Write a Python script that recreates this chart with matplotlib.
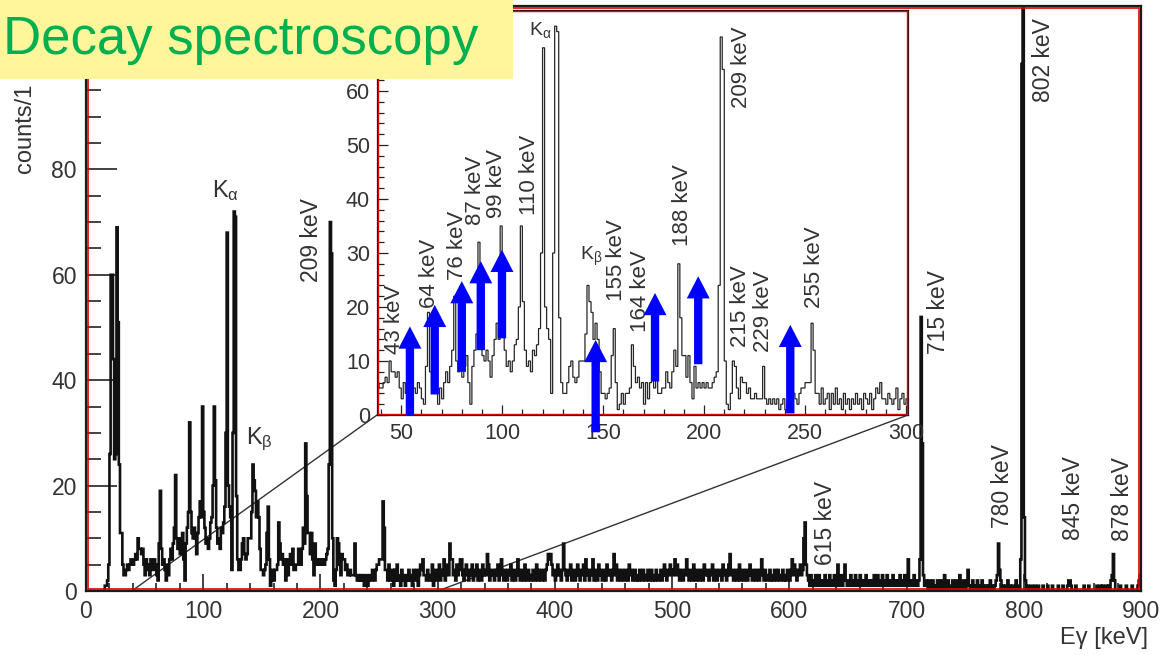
import numpy as np
import matplotlib
matplotlib.use("Agg")
import matplotlib.pyplot as plt
from matplotlib.patches import Rectangle, FancyArrowPatch, ConnectionPatch, ArrowStyle
from matplotlib.ticker import MultipleLocator

plt.rcParams['font.family'] = ['Liberation Sans', 'DejaVu Sans']
plt.rcParams['mathtext.fontset'] = 'custom'
plt.rcParams['mathtext.rm'] = 'Liberation Sans'
plt.rcParams['mathtext.it'] = 'Liberation Sans'
plt.rcParams['mathtext.bf'] = 'Liberation Sans:bold'

# ---------------- data: counts per 1 keV bin ----------------
counts_000 = [0,0,0,0,0,0,0,0,0,0,
              0,0,0,0,0,0,1,1,2,5,
              26,60,60,44,25,26,69,51,24,11,
              11,5,3,3,4,5,4,5,6,5,
              5,6,7,6,10,8,8,7,8,5,
              3,6,4,5,3,6,5,4,6,5,
              3,2,9,19,8,5,6,4,2,5,
              3,6,8,6,9,12,22,10,8,10,
              7,9,11,6,2,9,12,15,32,15,
              11,10,12,10,7,11,14,17,14,35]
counts_100 = [15,12,9,10,8,10,13,14,20,35,
              21,12,9,10,8,12,11,13,16,30,
              68,20,16,14,4,30,72,71,18,6,
              4,4,6,9,10,7,6,7,10,10,
              10,15,24,21,19,14,17,14,8,4,
              4,3,4,5,11,16,6,1,2,4,
              2,4,4,5,13,9,6,7,5,6,
              2,6,3,6,7,5,8,4,4,5,
              5,8,6,5,8,12,9,28,18,11,
              11,7,11,6,3,9,5,6,5,6]
counts_200 = [5,6,5,5,6,7,8,24,70,64,
              10,2,1,4,10,9,5,3,7,6,
              6,4,5,3,3,4,3,3,3,9,
              3,2,3,2,3,2,3,1,2,3,
              1,2,3,2,4,3,2,4,5,5,
              6,6,6,17,12,4,4,2,5,2,
              3,4,1,4,2,5,2,3,1,4,
              2,3,1,3,2,4,2,3,1,4,
              3,2,4,1,3,5,4,6,3,3,
              2,4,3,2,3,5,1,3,4,2]
counts_300 = [3,5,2,4,3,6,2,4,5,3,
              9,6,6,3,4,2,5,3,4,6,
              6,3,2,4,5,3,2,4,3,5,
              2,4,3,5,2,3,4,2,5,3,
              4,3,7,5,2,3,4,3,2,4,
              3,5,2,4,6,3,2,4,3,2,
              4,3,5,2,3,4,2,3,6,4,
              2,3,4,2,5,3,2,4,3,2,
              3,4,2,3,5,2,4,3,2,4,
              3,2,4,5,7,6,7,5,3,4]
counts_400 = [2,3,5,4,3,2,4,9,4,3,
              2,4,3,5,2,3,4,2,3,5,
              3,2,4,3,5,2,6,4,3,2,
              4,3,6,2,4,3,2,5,3,4,
              2,3,4,2,5,3,4,3,2,4,
              7,3,5,2,4,3,2,4,3,2,
              4,3,2,5,3,4,2,3,4,2,
              3,2,4,3,2,4,3,2,3,4,
              2,3,4,2,3,2,4,3,2,3,
              4,2,3,5,3,2,4,3,5,4]
counts_500 = [3,4,6,3,5,4,2,3,4,2,
              3,4,6,3,2,4,3,2,5,3,
              2,4,3,2,4,3,2,5,3,4,
              3,2,4,3,5,2,3,4,2,3,
              4,3,2,5,3,4,2,3,5,7,
              3,4,2,3,4,2,3,5,2,3,
              4,2,3,4,2,3,5,3,2,4,
              3,2,4,3,2,4,6,3,2,4,
              3,2,3,4,2,3,2,4,3,2,
              4,3,2,3,4,2,3,2,4,3]
counts_600 = [2,4,6,3,5,4,2,3,4,5,
              3,4,10,13,5,3,2,1,3,2,
              1,2,3,1,2,3,1,2,1,2,
              3,1,2,1,3,2,1,2,3,1,
              2,5,1,2,3,1,2,5,2,1,
              2,1,3,2,1,2,3,1,2,1,
              3,1,2,1,2,3,1,2,1,2,
              1,2,3,1,2,3,1,2,1,3,
              2,1,2,3,1,2,1,2,3,1,
              2,1,2,1,3,2,1,2,3,1]
counts_700 = [1,6,2,1,2,1,3,1,2,1,
              2,6,52,28,3,1,2,1,0,2,
              1,0,2,1,0,1,2,0,1,2,
              0,1,3,0,1,2,0,1,0,2,
              1,0,2,1,0,3,1,0,2,1,
              0,2,4,1,0,1,2,0,1,0,
              2,0,1,0,2,1,0,1,0,1,
              0,2,0,1,0,1,2,3,9,4,
              2,0,1,0,1,0,2,0,1,0,
              1,0,0,2,0,1,0,6,100,160]
counts_800 = [14,2,0,1,0,0,1,0,0,1,
              0,0,1,0,0,0,1,0,0,0,
              1,0,0,0,1,0,0,0,0,1,
              0,0,0,1,0,0,0,1,2,2,
              1,0,0,0,1,0,0,0,0,0,
              0,1,0,0,0,1,0,0,0,0,
              0,0,1,0,0,1,0,1,0,0,
              1,0,1,0,2,3,7,2,0,0,
              0,0,1,0,0,0,0,1,0,0,
              0,0,1,0,0,0,0,1,2,3]

counts = np.array(counts_000 + counts_100 + counts_200 + counts_300 + counts_400 +
                  counts_500 + counts_600 + counts_700 + counts_800, dtype=float)
edges = np.arange(len(counts) + 1)

main_x_ticks = [0, 100, 200, 300, 400, 500, 600, 700, 800, 900]
main_y_ticks = [0, 20, 40, 60, 80]
inset_x_ticks = [50, 100, 150, 200, 250, 300]
inset_y_ticks = [0, 10, 20, 30, 40, 50, 60]

main_labels = ['209 keV', '615 keV', '715 keV', '780 keV', '802 keV', '845 keV', '878 keV']
main_label_x = [192, 631, 727, 782, 816.6, 842, 884]
main_label_y = [58.7, 5.0, 44.9, 12.0, 92.8, 9.7, 9.4]

inset_labels = ['43 keV', '64 keV', '76 keV', '87 keV', '99 keV', '110 keV', '155 keV',
                '164 keV', '188 keV', '209 keV', '215 keV', '229 keV', '255 keV']
inset_label_x = [46.9, 63.9, 78.1, 86.9, 97.4, 113.3, 156.6, 168.3, 189.1, 218.3, 218.0, 229.3, 254.8]
inset_label_y = [11.3, 19.8, 25.0, 35.2, 36.5, 37.0, 21.1, 15.4, 31.3, 56.9, 12.6, 11.7, 19.8]

arrow_x = [54.3, 66.6, 80.0, 89.4, 99.9, 146.3, 175.7, 197.1, 242.7]
arrow_base = [0.0, 3.8, 8.0, 12.0, 14.2, -3.2, 6.2, 9.4, 0.3]
arrow_tip = [16.4, 20.4, 24.8, 28.5, 30.6, 13.9, 22.6, 25.7, 16.7]

# ---------------- figure ----------------
W, H = 1161, 655
fig = plt.figure(figsize=(W / 100, H / 100), dpi=100)
fig.patch.set_facecolor('white')

TXT = '#333333'

def frame(ax, px_w, px_h, dark_lw, red_lw, inset_px):
    for s in ax.spines.values():
        s.set_color('#1a1a1a')
        s.set_linewidth(dark_lw)
    dx = inset_px / px_w
    dy = inset_px / px_h
    r = Rectangle((dx, dy), 1 - 2 * dx, 1 - 2 * dy, transform=ax.transAxes,
                  fill=False, ec='#e00000', lw=red_lw, zorder=5, clip_on=False)
    ax.add_patch(r)

# main axes
ax = fig.add_axes([86 / W, 1 - 591 / H, 1055 / W, 585 / H])
ax.stairs(counts, edges, color='#111111', lw=1.9, zorder=2)
ax.set_xlim(0, 900)
ax.set_ylim(0, 111)
ax.set_xticks(main_x_ticks)
ax.set_yticks(main_y_ticks)
ax.xaxis.set_minor_locator(MultipleLocator(20))
ax.yaxis.set_minor_locator(MultipleLocator(5))
ax.tick_params(which='both', direction='in', color='#222222', labelcolor=TXT, labelsize=16.5)
ax.tick_params(axis='x', which='major', length=12, width=1.2, pad=6.5)
ax.tick_params(axis='x', which='minor', length=6, width=1.2)
ax.tick_params(axis='y', which='major', length=22, width=1.2, pad=6.5)
ax.tick_params(axis='y', which='minor', length=11, width=1.2)
frame(ax, 1055, 585, 1.6, 1.2, 2.0)

ax.text(119, 76, r'K$_\alpha$', ha='center', va='center', fontsize=17, color=TXT)
ax.text(147.6, 28.7, r'K$_\beta$', ha='center', va='center', fontsize=17, color=TXT)
for lbl, x, y in zip(main_labels, main_label_x, main_label_y):
    ax.text(x, y, lbl, rotation=90, ha='center', va='bottom', fontsize=16.5, color=TXT)

# inset axes
axin = fig.add_axes([377 / W, 1 - 415 / H, 531 / W, 405 / H])
axin.set_facecolor('white')
axin.stairs(counts, edges, color='#262626', lw=0.9, zorder=2)
axin.set_xlim(38, 301)
axin.set_ylim(0, 75)
axin.set_xticks(inset_x_ticks)
axin.set_yticks(inset_y_ticks)
axin.xaxis.set_minor_locator(MultipleLocator(10))
axin.yaxis.set_minor_locator(MultipleLocator(2))
axin.tick_params(which='both', direction='in', color='#222222', labelcolor=TXT, labelsize=15.5)
axin.tick_params(axis='x', which='major', length=7, width=0.9, pad=5.5)
axin.tick_params(axis='x', which='minor', length=4, width=0.9)
axin.tick_params(axis='y', which='major', length=8, width=0.9, pad=5)
axin.tick_params(axis='y', which='minor', length=5, width=0.9)
frame(axin, 531, 405, 0.9, 1.0, 1.0)

axin.text(118.7, 71.3, r'K$_\alpha$', ha='center', va='center', fontsize=14, color=TXT)
axin.text(144.3, 29.3, r'K$_\beta$', ha='center', va='center', fontsize=14, color=TXT)
for lbl, x, y in zip(inset_labels, inset_label_x, inset_label_y):
    axin.text(x, y, lbl, rotation=90, ha='center', va='bottom', fontsize=16, color=TXT, zorder=3)

style = ArrowStyle.Simple(head_length=16, head_width=16.5, tail_width=6)
for x, b, t in zip(arrow_x, arrow_base, arrow_tip):
    p = FancyArrowPatch((x, b), (x, t), arrowstyle=style, mutation_scale=1,
                        color='#0000ff', lw=0, shrinkA=0, shrinkB=0,
                        clip_on=False, zorder=6)
    axin.add_patch(p)

# zoom connection lines
for xa, xb in [(39, 0), (300, 1)]:
    con = ConnectionPatch(xyA=(xa, 0), coordsA=ax.transData,
                          xyB=(xb, 0), coordsB=axin.transAxes,
                          color='#333333', lw=1.0)
    ax.add_artist(con)

# axis titles (the y title is cut by the title box in the reference: only "counts/1" is visible)
fig.text(25 / W, 1 - 173 / H, 'counts/1', rotation=90, ha='center', va='bottom',
         fontsize=17, color=TXT)
fig.text(1148 / W, 1 - 638 / H, 'Eγ [keV]', ha='right', va='center', fontsize=17, color=TXT)

# title box
fig.add_artist(Rectangle((0, 1 - 79 / H), 513 / W, 79 / H, transform=fig.transFigure,
                         fc='#fff69c', ec='none', zorder=10))
fig.text(3 / W, 1 - 40 / H, 'Decay spectroscopy', color='#00b050', fontsize=38,
         ha='left', va='center', zorder=11)

fig.savefig('out.png', dpi=100)
